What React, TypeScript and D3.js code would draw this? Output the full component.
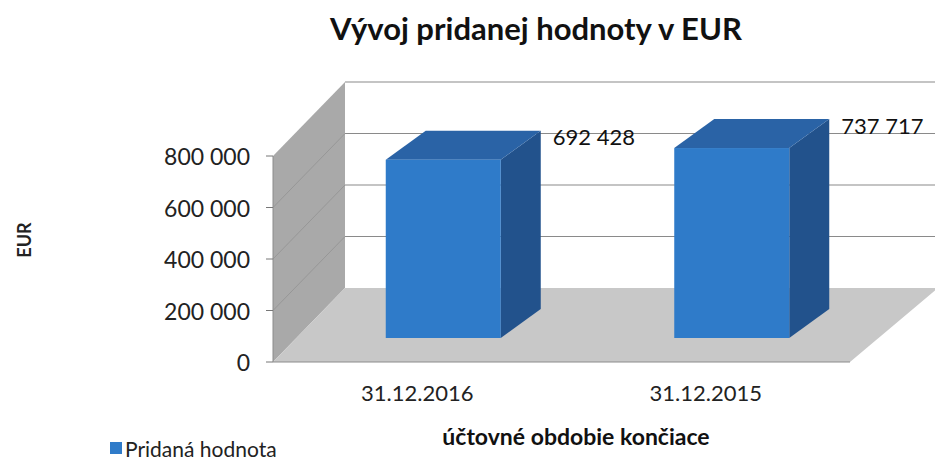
import React from "react";
import * as d3 from "d3";

const categories = ["31.12.2016", "31.12.2015"];
const values = [692428, 737717];
const yTicks = [0, 200000, 400000, 600000, 800000];
const seriesName = "Pridaná hodnota";
const titleText = "Vývoj pridanej hodnoty v EUR";
const yAxisTitle = "EUR";
const xAxisTitle = "účtovné obdobie končiace";

const W = 935;
const H = 461;
const FONT = "Lato, 'Open Sans', sans-serif";

// geometry of the 3D box
const frontLeft = 273;
const frontRight = 850;
const wallDx = 72;
const wallDy = 74;
const floorRightDx = 88;
const barW = 115;
const barFrontDx = 26;
const barFrontDy = 24;
const barDepthDx = 40;
const barDepthDy = 29;

const fmt = (v: number) => d3.format(",")(v).replace(/,/g, " ");

export default function App() {
  const x = d3.scaleBand<string>().domain(categories).range([frontLeft, frontRight]);
  const yFront = d3.scaleLinear().domain([0, 800000]).range([362, 156]);
  const yBack = (v: number) => yFront(v) - wallDy;
  const backLeft = frontLeft + wallDx;
  const backRight = frontRight + floorRightDx;
  const maxV = 800000;

  const pts = (p: number[][]) => p.map((q) => q.join(",")).join(" ");

  return (
    <svg
      width={W}
      height={H}
      style={{ position: "absolute", left: 0, top: 0, background: "#fff" }}
      fontFamily={FONT}
    >
      <rect x={0} y={0} width={W} height={H} fill="#fff" />
      {/* title */}
      <text x={536} y={40} textAnchor="middle" fontSize={31} fontWeight={700} fill="#111">
        {titleText}
      </text>

      {/* back wall */}
      <polygon
        points={pts([
          [backLeft, yBack(maxV)],
          [backRight, yBack(maxV)],
          [backRight, yBack(0)],
          [backLeft, yBack(0)],
        ])}
        fill="#ffffff"
      />
      {yTicks.filter((t) => t > 0).map((t) => (
        <line
          key={"bg" + t}
          x1={backLeft}
          x2={backRight}
          y1={yBack(t)}
          y2={yBack(t)}
          stroke="#8a8a8a"
          strokeWidth={1.2}
        />
      ))}

      {/* left wall */}
      <polygon
        points={pts([
          [frontLeft, yFront(maxV)],
          [backLeft, yBack(maxV)],
          [backLeft, yBack(0)],
          [frontLeft, yFront(0)],
        ])}
        fill="#a9a9a9"
      />
      {yTicks.filter((t) => t > 0 && t < maxV).map((t) => (
        <line
          key={"lg" + t}
          x1={frontLeft}
          x2={backLeft}
          y1={yFront(t)}
          y2={yBack(t)}
          stroke="#979797"
          strokeWidth={1}
        />
      ))}

      {/* floor */}
      <polygon
        points={pts([
          [frontLeft, yFront(0)],
          [frontRight, yFront(0)],
          [backRight, yBack(0)],
          [backLeft, yBack(0)],
        ])}
        fill="#c8c8c8"
      />
      <line x1={frontLeft} x2={frontRight} y1={yFront(0)} y2={yFront(0)} stroke="#8c8c8c" strokeWidth={1.2} />
      <line x1={frontLeft} x2={frontLeft} y1={yFront(maxV)} y2={yFront(0)} stroke="#8c8c8c" strokeWidth={1} />

      {/* ticks & labels */}
      {yTicks.map((t) => (
        <g key={"t" + t}>
          <line x1={frontLeft - 7} x2={frontLeft} y1={yFront(t)} y2={yFront(t)} stroke="#777" strokeWidth={1} />
          <text
            x={250}
            y={yFront(t)}
            textAnchor="end"
            dominantBaseline="central"
            fontSize={23}
            fill="#222"
          >
            {fmt(t)}
          </text>
        </g>
      ))}

      {/* bars */}
      {categories.map((c, i) => {
        const v = values[i];
        const cx = (x(c) as number) + x.bandwidth() / 2;
        const x0 = cx + barFrontDx - barW / 2;
        const x1 = x0 + barW;
        const yB = yFront(0) - barFrontDy;
        const yT = yFront(v) - barFrontDy;
        const dx = barDepthDx;
        const dy = barDepthDy;
        return (
          <g key={c}>
            <polygon
              points={pts([
                [x1, yT],
                [x1 + dx, yT - dy],
                [x1 + dx, yB - dy],
                [x1, yB],
              ])}
              fill="#22528c"
            />
            <polygon
              points={pts([
                [x0, yT],
                [x1, yT],
                [x1 + dx, yT - dy],
                [x0 + dx, yT - dy],
              ])}
              fill="#2a63a6"
            />
            <rect x={x0} y={yT} width={barW} height={yB - yT} fill="#2f7bc9" />
            <text
              x={x1 + dx + 12}
              y={yT - dy + 6}
              dominantBaseline="central"
              fontSize={22}
              fill="#111"
            >
              {fmt(v)}
            </text>
            <text x={cx} y={392} textAnchor="middle" dominantBaseline="central" fontSize={22} fill="#222">
              {c}
            </text>
          </g>
        );
      })}

      {/* axis titles */}
      <text
        transform={`translate(24,240) rotate(-90)`}
        textAnchor="middle"
        dominantBaseline="central"
        fontSize={18}
        fontWeight={700}
        fill="#222"
      >
        {yAxisTitle}
      </text>
      <text x={576} y={436} textAnchor="middle" dominantBaseline="central" fontSize={23} fontWeight={700} fill="#111">
        {xAxisTitle}
      </text>

      {/* legend */}
      <rect x={110} y={442} width={12} height={12} fill="#2f7bc9" />
      <text x={125} y={448} dominantBaseline="central" fontSize={21} fill="#222">
        {seriesName}
      </text>
    </svg>
  );
}
